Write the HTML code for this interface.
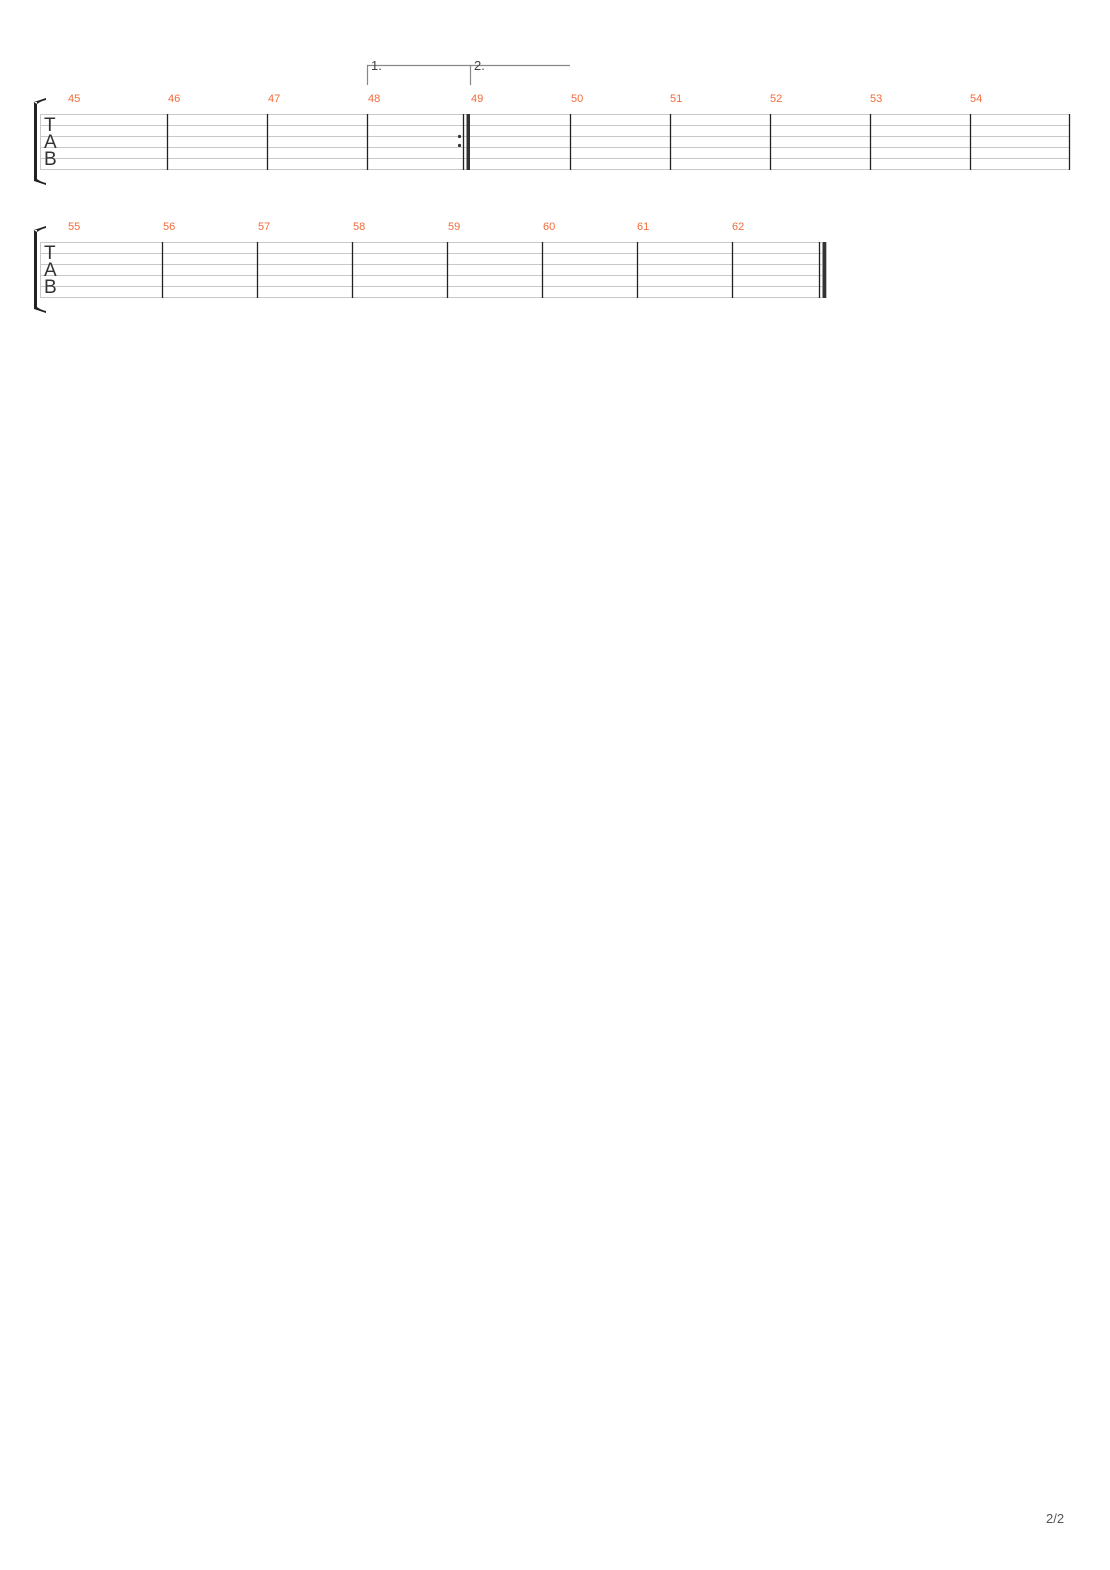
<!DOCTYPE html>
<html><head><meta charset="utf-8"><style>
html,body{margin:0;padding:0;background:#fff;}
svg{display:block;}
</style></head><body>
<svg width="1110" height="1570" xmlns="http://www.w3.org/2000/svg" font-family="Liberation Sans, DejaVu Sans, sans-serif">
<rect width="1110" height="1570" fill="#fff"/>
<!-- Staff 1 -->
<g stroke="#c8c8c8" stroke-width="1">
<line x1="40" y1="114.5" x2="1070" y2="114.5"/>
<line x1="40" y1="125.5" x2="1070" y2="125.5"/>
<line x1="40" y1="136.5" x2="1070" y2="136.5"/>
<line x1="40" y1="147.5" x2="1070" y2="147.5"/>
<line x1="40" y1="158.5" x2="1070" y2="158.5"/>
<line x1="40" y1="169.5" x2="1070" y2="169.5"/>
<line x1="40.5" y1="114" x2="40.5" y2="170"/>
</g>
<g stroke="#222" stroke-width="1.3">
<line x1="167.5" y1="114" x2="167.5" y2="170"/>
<line x1="267.5" y1="114" x2="267.5" y2="170"/>
<line x1="367.5" y1="114" x2="367.5" y2="170"/>
<line x1="463.5" y1="114" x2="463.5" y2="170"/>
<line x1="570.5" y1="114" x2="570.5" y2="170"/>
<line x1="670.5" y1="114" x2="670.5" y2="170"/>
<line x1="770.5" y1="114" x2="770.5" y2="170"/>
<line x1="870.5" y1="114" x2="870.5" y2="170"/>
<line x1="970.5" y1="114" x2="970.5" y2="170"/>
<line x1="1069.5" y1="114" x2="1069.5" y2="170"/>
</g>
<rect x="466.5" y="114" width="3.5" height="56" fill="#333"/>
<circle cx="459.5" cy="136.5" r="1.6" fill="#333"/>
<circle cx="459.5" cy="145.5" r="1.6" fill="#333"/>
<!-- voltas -->
<g stroke="#888" stroke-width="1.2" fill="none">
<polyline points="367.5,85 367.5,65.5 470.5,65.5"/>
<polyline points="470.5,85 470.5,65.5 570,65.5"/>
</g>
<text x="371" y="70" font-size="13" fill="#444">1.</text>
<text x="474" y="70" font-size="13" fill="#444">2.</text>
<!-- TAB 1 -->
<g font-size="19" fill="#333">
<text x="44" y="131">T</text><text x="44" y="148">A</text><text x="44" y="165">B</text>
</g>
<path d="M34,102 L34,181 L37,181 L37,102 Z M34,102 Q40,100 46,98 L46,100 Q41,101 37,104 Z M34,181 Q40,183 46,185 L46,183 Q41,182 37,179 Z" fill="#222"/>
<g font-size="11" fill="#f26b3a">
<text x="68" y="102">45</text><text x="168" y="102">46</text><text x="268" y="102">47</text><text x="368" y="102">48</text><text x="471" y="102">49</text><text x="571" y="102">50</text><text x="670" y="102">51</text><text x="770" y="102">52</text><text x="870" y="102">53</text><text x="970" y="102">54</text>
</g>
<!-- Staff 2 -->
<g stroke="#c8c8c8" stroke-width="1">
<line x1="40" y1="242.5" x2="822" y2="242.5"/>
<line x1="40" y1="253.5" x2="822" y2="253.5"/>
<line x1="40" y1="264.5" x2="822" y2="264.5"/>
<line x1="40" y1="275.5" x2="822" y2="275.5"/>
<line x1="40" y1="286.5" x2="822" y2="286.5"/>
<line x1="40" y1="297.5" x2="822" y2="297.5"/>
<line x1="40.5" y1="242" x2="40.5" y2="298"/>
</g>
<g stroke="#222" stroke-width="1.3">
<line x1="162.5" y1="242" x2="162.5" y2="298"/>
<line x1="257.5" y1="242" x2="257.5" y2="298"/>
<line x1="352.5" y1="242" x2="352.5" y2="298"/>
<line x1="447.5" y1="242" x2="447.5" y2="298"/>
<line x1="542.5" y1="242" x2="542.5" y2="298"/>
<line x1="637.5" y1="242" x2="637.5" y2="298"/>
<line x1="732.5" y1="242" x2="732.5" y2="298"/>
<line x1="819.5" y1="242" x2="819.5" y2="298"/>
</g>
<rect x="822.5" y="242" width="3.8" height="56" fill="#333"/>
<g font-size="19" fill="#333">
<text x="44" y="259">T</text><text x="44" y="276">A</text><text x="44" y="293">B</text>
</g>
<path d="M34,230 L34,309 L37,309 L37,230 Z M34,230 Q40,228 46,226 L46,228 Q41,229 37,232 Z M34,309 Q40,311 46,313 L46,311 Q41,310 37,307 Z" fill="#222"/>
<g font-size="11" fill="#f26b3a">
<text x="68" y="230">55</text><text x="163" y="230">56</text><text x="258" y="230">57</text><text x="353" y="230">58</text><text x="448" y="230">59</text><text x="543" y="230">60</text><text x="637" y="230">61</text><text x="732" y="230">62</text>
</g>
<text x="1046" y="1523" font-size="13" fill="#555">2/2</text>
</svg>
</body></html>
